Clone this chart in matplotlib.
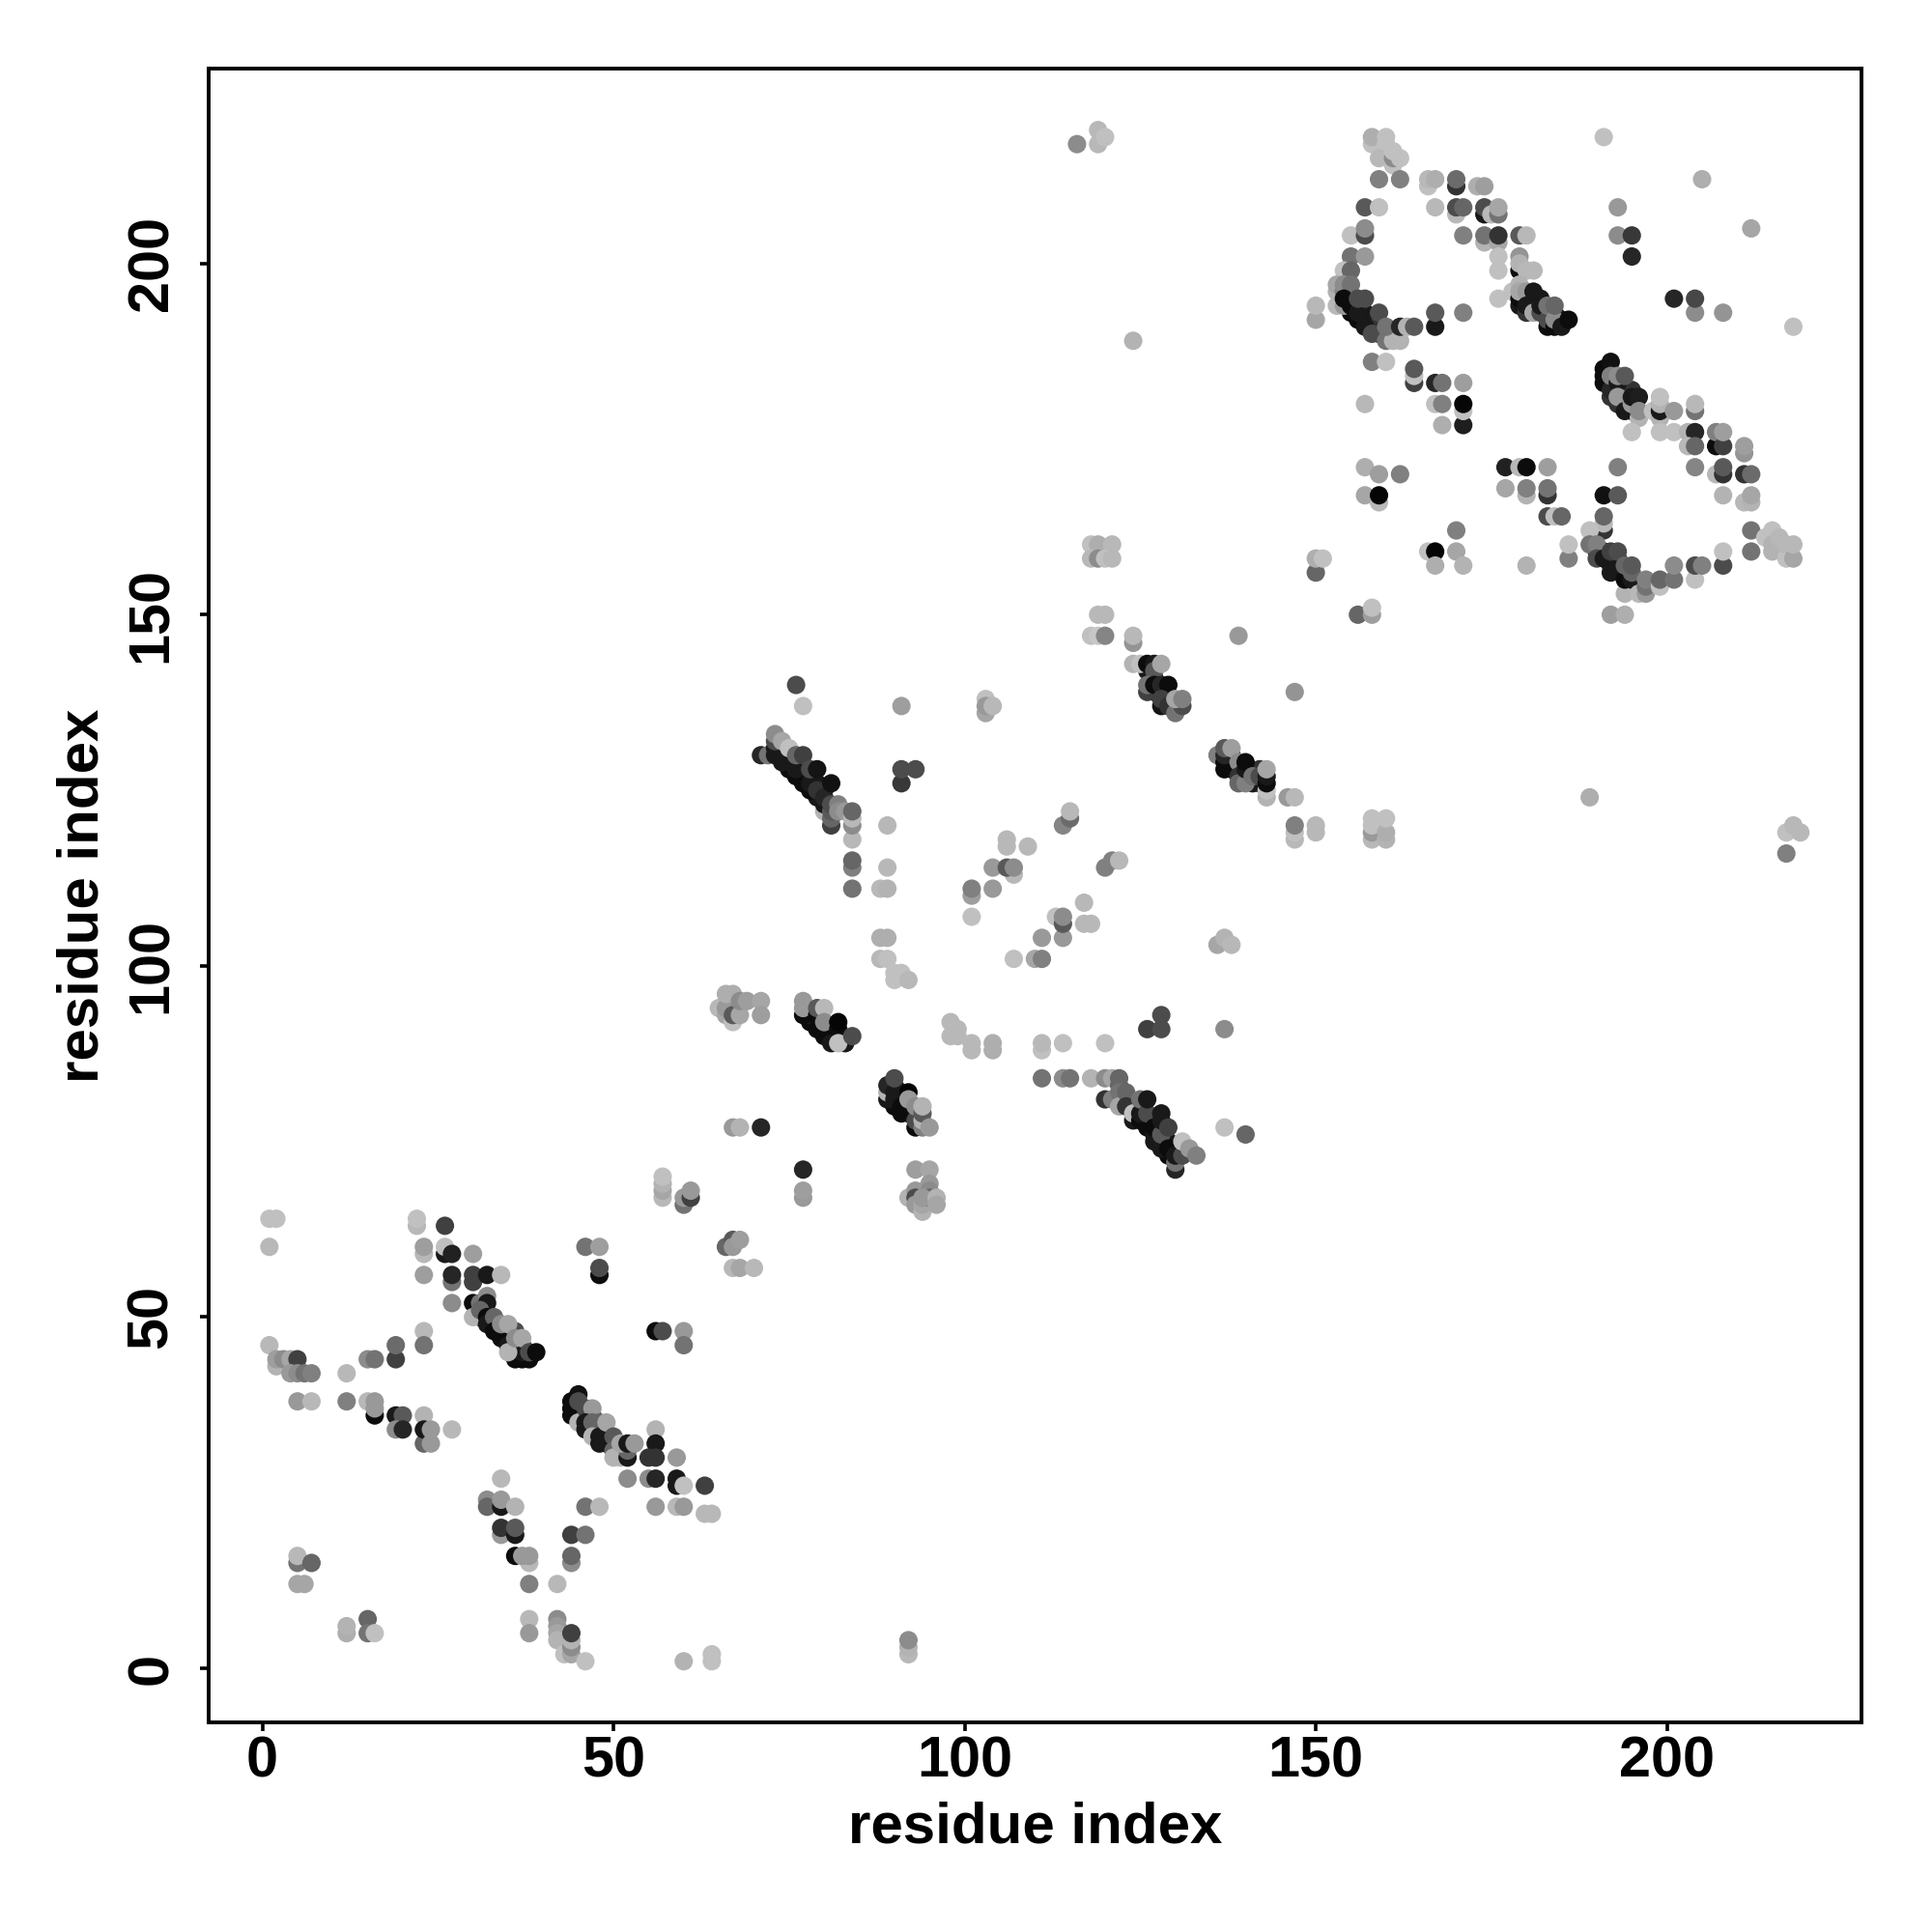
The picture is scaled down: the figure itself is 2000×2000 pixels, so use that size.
import matplotlib
matplotlib.use("Agg")
import matplotlib.pyplot as plt

# (residue i, residue j, grey level), one list per region
diag_a = [(31,50,.05),(33,49,.1),(34,48,.08),(35,47,.05),(35,48,.1),(36,48,.3),(37,46,.1),
          (30,52,.05),(30,50,.7),(31,52,.45),(32,53,.55),(32,52,.1),(31,51,.4),(32,50,.05),(32,49,.1),
          (33,50,.4),(33,48,.05),(34,47,.05),(34,49,.55),(35,49,.65),(35,46,.1),(36,46,.05),(36,44,.05),
          (37,44,.05),(38,44,.05),(36,45,.05),(37,45,.1),(35,45,.7),(36,47,.55),(37,47,.65),(38,45,.3),(39,45,.05)]
diag_b = [(45,37,.05),(46,36,.05),(47,34,.05),(48,34,.1),(49,33,.1),(49,32,.1),(47,36,.2),(50,32,.2),
          (44,38,.05),(44,37,.05),(44,36,.05),(45,36,.05),(45,35,.7),(45,39,.07),(45,38,.3),(46,37,.3),(47,37,.6),
          (46,35,.1),(46,34,.1),(47,35,.4),(48,35,.4),(47,33,.7),(48,33,.1),(48,32,.1),(49,35,.65),(50,33,.35),
          (50,31,.4),(50,30,.7),(51,30,.7),(52,30,.1),(52,31,.4),(51,32,.65),(52,32,.1),(53,32,.6)]
low_left = [(1,64,.75),(2,64,.75),(1,60,.72),(22,63,.72),(22,64,.75),(26,63,.25),(23,59,.72),(23,60,.62),(23,56,.62),
            (26,59,.1),(26,60,.75),(27,59,.13),(30,59,.62),(27,55,.45),(27,56,.15),(27,52,.55),(30,55,.25),(30,56,.25),
            (32,56,.1),(34,56,.72),(1,46,.72),(2,43,.7),(2,44,.62),(3,44,.55),(4,44,.65),(5,44,.25),(4,42,.6),(5,42,.55),
            (6,42,.45),(7,42,.5),(12,42,.72),(15,44,.55),(16,44,.45),(19,44,.25),(19,46,.42),(23,48,.72),(23,46,.45),
            (5,38,.6),(7,38,.72),(12,38,.5),(15,38,.72),(16,36,.05),(16,37,.6),(16,38,.6),(19,36,.1),(20,36,.35),
            (19,34,.55),(20,34,.15),(23,36,.7),(23,32,.4),(23,34,.1),(24,32,.6),(24,34,.6),(27,34,.72),
            (34,27,.72),(32,24,.55),(32,23,.4),(34,23,.1),(34,24,.6),(36,23,.7),(34,19,.6),(34,20,.2),(36,19,.1),(36,20,.35),
            (36,16,.05),(38,15,.72),(37,16,.6),(38,16,.6),(38,12,.5),(42,12,.72),(46,23,.45),(48,23,.72),(44,19,.25),
            (46,19,.45),(44,15,.55),(44,16,.4),(5,15,.45),(5,16,.72),(7,15,.4),(5,12,.65),(6,12,.65),
            (12,5,.68),(12,6,.7),(15,7,.4),(15,5,.45),(16,5,.75),(38,7,.72),(38,5,.6),(42,7,.55),(42,6,.6),(42,5,.65),
            (42,4,.7),(43,2,.75),(44,2,.65),(44,3,.55),(44,4,.7),(44,5,.25),(46,1,.75),(60,1,.7),(64,1,.75),(64,2,.75),
            (46,60,.45),(48,60,.62),(48,56,.05),(48,57,.3),(56,48,.05),(57,48,.3),(60,48,.6),(60,46,.45),
            (56,34,.7),(56,32,.1),(55,30,.2),(56,30,.2),(59,30,.6),(52,27,.55),(55,27,.55),(56,27,.15),(59,26,.1),
            (59,27,.1),(60,26,.75),(63,26,.25),(56,23,.6),(59,23,.72),(60,23,.6),(63,22,.72),(64,22,.72),
            (57,67,.72),(57,68,.65),(57,69,.7),(57,70,.75),(60,66,.45),(60,67,.6),(61,67,.25),(61,68,.6),
            (66,60,.4),(67,61,.35),(67,60,.6),(68,61,.62),(67,57,.72),(68,57,.65),(70,57,.72),
            (92,2,.72),(92,3,.7),(92,4,.55)]
diag_c = [(74,130,.1),(75,129,.05),(75,128,.05),(77,127,.05),(77,128,.05),(78,127,.1),(79,126,.1),(79,124,.1),(80,125,.1),(77,126,.05),
          (71,130,.15),(72,130,.45),(73,130,.1),(73,131,.1),(73,132,.3),(73,133,.55),(74,129,.1),(74,132,.65),(75,131,.75),
          (76,127,.05),(76,128,.1),(76,130,.4),(77,130,.25),(78,125,.05),(78,126,.1),(78,128,.3),(79,125,.2),(79,128,.08),
          (80,122,.7),(80,123,.1),(80,124,.15),(81,120,.25),(81,121,.4),(81,122,.35),(81,123,.3),(81,126,.07),
          (82,123,.5),(82,122,.55),(83,122,.6),(84,118,.72),(84,120,.55),(84,121,.72),(84,122,.4)]
middle = [(76,140,.3),(77,137,.75),(91,137,.62),(103,138,.75),(103,136,.65),(103,137,.6),(104,137,.72),
          (84,114,.5),(84,115,.4),(84,111,.45),(89,120,.72),(89,114,.72),(88,111,.72),(89,111,.7),
          (91,126,.22),(91,128,.3),(93,128,.3),(114,120,.52),(115,121,.42),(115,122,.72),
          (106,117,.72),(106,118,.72),(109,117,.72),(104,114,.6),(107,113,.72),(106,114,.35),(107,114,.55),
          (101,110,.62),(101,111,.5),(104,111,.6),(101,107,.75),(120,114,.5),(121,115,.5),(122,115,.72),
          (117,109,.72),(113,107,.75),(114,104,.6),(114,106,.35),(114,107,.55),(117,106,.72),(118,106,.72),
          (111,104,.6),(107,101,.75),(110,101,.65),(111,101,.5),(88,104,.68),(89,104,.68),(88,101,.72),(89,101,.75),
          (90,98,.75),(90,99,.75),(91,99,.75),(92,98,.72),(136,103,.65),(137,104,.7),(138,103,.72),(137,91,.55),
          (137,77,.75),(140,76,.4),(126,91,.25),(128,91,.3),(128,93,.3)]
near_90 = [(65,94,.72),(66,93,.65),(66,94,.6),(66,96,.68),(67,92,.75),(67,93,.35),(67,96,.68),(68,93,.65),(68,95,.55),(69,95,.62),
           (71,95,.65),(71,93,.62),(78,92,.05),(78,93,.1),(80,90,.05),(80,91,.05),(81,91,.1),(81,90,.05),
           (77,93,.05),(77,94,.6),(77,95,.6),(79,91,.05),(79,93,.05),(79,94,.35),(80,94,.72),
           (80,92,.55),(81,89,.1),(82,91,.05),(82,92,.02),(83,89,.1),(82,89,.75),(84,90,.3),
           (98,90,.72),(98,92,.72),(99,90,.72),(99,91,.72),(101,88,.72),(101,89,.72),(104,88,.68),(104,89,.68),
           (111,88,.75),(111,89,.72),(114,89,.75),(120,89,.75),(111,84,.45),(114,84,.55),(115,84,.45),(118,84,.7),
           (120,84,.55),(121,84,.65),(122,84,.4)]
diag_d = [(124,80,.05),(124,78,.1),(126,78,.05),(126,77,.05),(127,78,.1),(127,75,.1),(128,75,.08),(129,73,.05),(129,75,.1),(125,80,.1),
          (120,81,.2),(121,81,.5),(122,83,.4),(122,82,.45),(122,80,.65),(123,82,.4),(123,80,.2),(124,79,.75),(125,78,.05),
          (125,79,.1),(125,81,.45),(126,79,.3),(126,81,.1),(127,76,.1),(127,77,.05),(128,74,.1),(128,76,.35),(128,78,.1),
          (128,79,.1),(129,74,.05),(129,77,.25),(130,71,.15),(130,72,.45),(130,73,.1),(131,73,.3),(131,75,.75),(132,74,.6),(133,73,.5)]
diag_e = [(90,80,.05),(91,81,.05),(91,82,.1),(92,79,.05),(92,80,.05),(90,83,.1),(93,79,.1),
          (89,81,.1),(89,82,.7),(89,83,.15),(90,81,.1),(90,82,.1),(90,84,.3),(91,79,.05),(91,80,.05),(92,82,.02),(92,81,.6),
          (93,77,.05),(93,78,.3),(93,80,.55),(94,77,.5),(94,78,.7),(94,79,.35),(94,80,.7),(95,77,.6),
          (67,77,.6),(68,77,.7),(71,77,.15),(77,71,.15),(77,67,.6),(77,68,.62),
          (93,71,.62),(95,71,.65),(95,69,.6),(92,67,.7),(93,68,.6),(93,67,.3),(93,66,.6),(94,65,.7),(94,66,.65),
          (95,68,.55),(95,67,.4),(94,67,.6),(96,67,.7),(96,66,.65)]
upper_mid = [(127,139,.05),(127,141,.1),(128,139,.1),(126,142,.1),(138,128,.05),(138,129,.05),(138,130,.1),(139,128,.05),(141,126,.1),(142,126,.1),(142,128,.2),
             (118,160,.75),(119,160,.68),(121,160,.72),(118,158,.72),(119,158,.55),(120,158,.75),(121,158,.72),
             (119,150,.72),(120,150,.72),(118,147,.75),(119,147,.78),(120,147,.52),(124,146,.58),(124,147,.72),
             (124,143,.7),(125,143,.75),(126,143,.05),(127,143,.1),(127,142,.35),(128,143,.65),
             (126,139,.25),(126,140,.45),(127,140,.05),(128,140,.15),(129,140,.05),(128,137,.08),(128,138,.25),
             (129,137,.2),(130,136,.45),(131,137,.3),(130,138,.65),(131,138,.5),(139,147,.6),(147,139,.58),
             (136,130,.5),(137,128,.05),(137,129,.05),(137,130,.15),(137,131,.35),(138,131,.62),(139,129,.55),
             (139,127,.2),(139,126,.4),(140,126,.5),(140,128,.1),(140,129,.05),(141,127,.45),(142,127,.3),
             (143,124,.7),(143,125,.75),(143,126,.05),(143,127,.1),(143,128,.65),(146,124,.6),(147,124,.72),
             (147,118,.72),(147,119,.75),(147,120,.5),(150,119,.72),(150,120,.72),
             (158,118,.72),(158,119,.6),(158,120,.75),(158,121,.75),(160,118,.7),(160,119,.68),(160,121,.75),
             (150,156,.4),(150,158,.68),(151,158,.75),(156,150,.4),(158,150,.62),(158,151,.75),
             (166,159,.75),(167,159,.02),(167,157,.68),(170,162,.5),(170,159,.65),(171,157,.7),
             (189,124,.68),(124,189,.7),(116,217,.55),(119,217,.72),(119,219,.72),(120,218,.75),
             (217,116,.5),(217,119,.75),(218,120,.72),(219,119,.72)]
top_arc = [(155,193,.05),(156,194,.1),(157,192,.05),(158,191,.05),(159,191,.1),(158,192,.2),(157,193,.1),(160,190,.3),
           (180,195,.05),(181,195,.05),(181,194,.05),(182,195,.1),(183,193,.05),(184,193,.05),(185,192,.1),(179,194,.1),
           (158,217,.75),(158,218,.68),(160,217,.75),(160,218,.75),(159,215,.72),(161,214,.75),(161,215,.55),(161,216,.75),(162,215,.75),
           (159,212,.5),(162,212,.5),(166,211,.75),(166,212,.72),(167,212,.68),(170,211,.2),(170,212,.42),(173,211,.68),(174,211,.62),
           (157,208,.35),(159,208,.75),(167,208,.72),(170,207,.72),(170,208,.3),(171,208,.4),(174,207,.1),(174,208,.3),(175,207,.72),
           (176,207,.45),(176,208,.65),(155,204,.75),(157,204,.3),(157,205,.55),(171,204,.5),(174,203,.7),(174,204,.45),
           (176,203,.65),(176,204,.2),(179,204,.35),(180,204,.72),(176,201,.75),(179,201,.58),(176,199,.75),(179,199,.05),
           (179,200,.7),(180,199,.72),(181,199,.72),(155,201,.45),(157,201,.6),(154,199,.75),(155,199,.4),(153,194,.72),(153,196,.7),(153,197,.65),
           (154,194,.6),(154,196,.5),(154,197,.55),(155,197,.45),(154,195,.05),(150,192,.65),(150,194,.72),
           (155,194,.05),(156,192,.05),(156,193,.1),(156,195,.3),(157,195,.3),(157,191,.1),(159,190,.05),(158,190,.3),(159,193,.3),
           (160,189,.45),(161,189,.7),(162,189,.7),(160,191,.45),(162,191,.15),(163,191,.7),(164,191,.35),
           (167,191,.1),(167,193,.35),(171,193,.5),(158,186,.5),(160,186,.75),(164,183,.25),(164,184,.75),(164,185,.35),
           (167,183,.15),(168,183,.45),(171,183,.62),(157,180,.72),(167,180,.75),(168,180,.5),(171,177,.12),(171,179,.75),(171,180,.03),
           (168,177,.68),(178,196,.75),(176,195,.75),(179,197,.7),(179,195,.05),(179,196,.65),(180,196,.6),(181,196,.1),
           (180,193,.2),(180,194,.1),(181,193,.65),(182,193,.3),(182,194,.1),(183,191,.05),(183,192,.3),(183,194,.45),
           (184,191,.05),(184,192,.55),(184,194,.4),(185,191,.1),(186,192,.05)]
right_arc = [(192,183,.05),(193,182,.05),(194,181,.1),(194,182,.1),(195,182,.2),(192,181,.2),
             (193,208,.6),(193,204,.55),(195,204,.22),(195,201,.15),(191,218,.75),(205,212,.68),(212,205,.65),
             (201,195,.15),(204,193,.55),(204,195,.28),(208,193,.58),(218,191,.75),
             (191,183,.05),(191,184,.05),(191,185,.05),(192,186,.07),(192,182,.15),(192,184,.5),(193,180,.2),(193,183,.1),(193,181,.6),(193,184,.55),(194,184,.35),
             (194,179,.1),(195,179,.1),(195,180,.6),(195,181,.1),(196,181,.12),(196,178,.7),(196,179,.55),(195,176,.75),
             (198,179,.75),(199,178,.7),(199,179,.1),(199,180,.7),(199,181,.75),(201,179,.6),(199,176,.75),(201,176,.75),
             (203,176,.7),(204,176,.15),(204,179,.45),(204,180,.72),(203,174,.72),(204,174,.4),(207,174,.05),(207,176,.5),(208,174,.25),
             (208,176,.62),(211,173,.58),(211,174,.62),(204,171,.52),(207,170,.72),(208,170,.2),(208,171,.35),(211,170,.2),(212,170,.42),
             (208,167,.7),(211,166,.72),(212,166,.7),(212,167,.65)]
lower_arc = [(190,159,.1),(191,159,.05),(192,158,.05),(193,157,.05),(194,156,.05),(193,158,.1),(192,157,.1),
             (157,167,.65),(159,166,.72),(159,167,.02),(157,171,.68),(159,170,.62),(162,170,.5),
             (177,171,.13),(179,171,.72),(180,171,.05),(183,171,.62),(177,168,.65),(180,167,.7),(180,168,.5),(183,167,.2),(183,168,.45),
             (183,164,.3),(184,164,.75),(185,164,.4),(193,171,.5),(191,167,.07),(193,167,.35),(191,162,.2),(191,163,.72),(191,164,.4),
             (189,162,.75),(189,160,.45),(190,160,.5),(190,158,.3),(191,158,.1),(192,156,.1),(192,159,.25),(193,159,.3),
             (194,153,.7),(194,155,.05),(194,157,.4),(195,155,.1),(195,156,.4),(195,157,.35),(196,153,.72),(197,153,.6),(197,154,.45),(197,155,.5),
             (199,154,.75),(199,155,.4),(201,155,.45),(201,157,.55),(204,155,.75),(204,157,.3),(205,157,.5),(208,157,.3),(208,159,.75),
             (212,162,.45),(212,159,.45),(214,161,.75),(215,162,.75),(215,159,.7),(215,160,.7),(216,161,.72),(217,158,.75),(217,160,.72),
             (218,158,.65),(218,160,.72),(186,158,.5),(186,160,.75),(180,157,.7),(192,150,.62),(194,150,.68)]

regions = [low_left, diag_a, diag_b, near_90, middle, diag_c, diag_e, diag_d, upper_mid, top_arc, right_arc, lower_arc]

plt.rcParams['font.family'] = ['Liberation Sans', 'DejaVu Sans']
plt.rcParams['font.weight'] = 'bold'

fig = plt.figure(figsize=(10, 10), dpi=200)
ax = fig.add_axes([0.1078, 0.1085, 0.8557, 0.8558])

for reg in regions:
    i = [p[0] for p in reg]
    j = [p[1] for p in reg]
    g = [p[2] for p in reg]
    ax.scatter(i, j, c=g, cmap="gray", vmin=0, vmax=1, s=47, linewidths=0)

ax.set_xlim(-7.7, 227.7)
ax.set_ylim(-7.7, 227.7)
ax.set_xticks([0, 50, 100, 150, 200])
ax.set_yticks([0, 50, 100, 150, 200])
ax.tick_params(width=1.3, length=3.4, labelsize=21.4)
ax.tick_params(axis="x", pad=1.6)
ax.tick_params(axis="y", pad=7.6)
plt.setp(ax.get_yticklabels(), rotation=90, va="center")
for sp in ax.spines.values():
    sp.set_linewidth(1.4)
ax.set_xlabel("residue index", fontsize=21.6, fontweight="bold", labelpad=4.6)
ax.set_ylabel("residue index", fontsize=21.6, fontweight="bold", labelpad=6)

fig.savefig("out.png", dpi=200)
